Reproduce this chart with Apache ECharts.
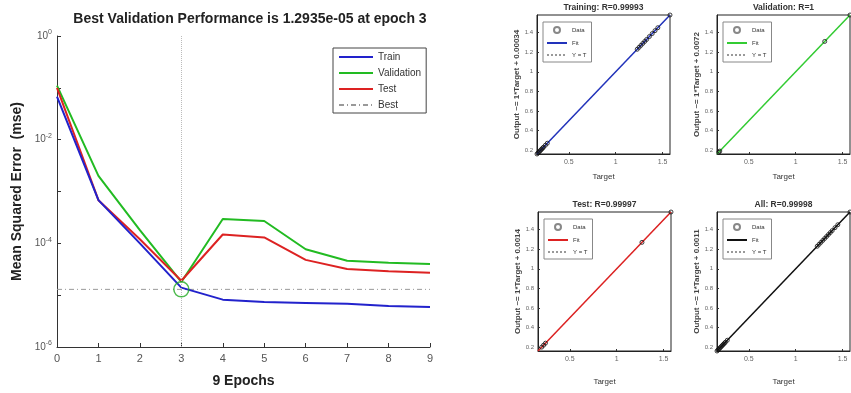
<!DOCTYPE html>
<html>
<head>
<meta charset="utf-8">
<script src="https://cdn.jsdelivr.net/npm/echarts@6/dist/echarts.min.js"></script>
<style>
  html, body { margin: 0; padding: 0; background: #fff; }
  #chart { width: 851px; height: 393px; }
</style>
</head>
<body>
<div id="chart"></div>
<script>
// performance curves (mse per epoch)
const epochs = [0, 1, 2, 3, 4, 5, 6, 7, 8, 9];
const trainPerf = [0.068, 6.8e-4, 1.0e-4, 1.4e-5, 8.2e-6, 7.4e-6, 7.1e-6, 6.8e-6, 6.2e-6, 5.9e-6];
const valPerf = [0.11, 2.0e-3, 1.8e-4, 1.8e-5, 2.95e-4, 2.7e-4, 7.7e-5, 4.6e-5, 4.2e-5, 4.0e-5];
const testPerf = [0.1, 6.8e-4, 1.2e-4, 1.9e-5, 1.48e-4, 1.3e-4, 4.8e-5, 3.2e-5, 2.9e-5, 2.7e-5];
const bestEpoch = 3;
const bestPerf = 1.2935e-5;
const logTickLabels = ['10', '0', '-2', '-4', '-6'];

// regression panels
const panelTitles = ['Training: R=0.99993', 'Validation: R=1', 'Test: R=0.99997', 'All: R=0.99998'];
const panelYLabels = ['Output ~= 1*Target + 0.00034', 'Output ~= 1*Target + 0.0072', 'Output ~= 1*Target + 0.0014', 'Output ~= 1*Target + 0.0011'];
const panelColors = ['#2233bb', '#33cc33', '#dd2222', '#111111'];
const targetRange = [0.16, 1.58];
const xTicks = [0.5, 1, 1.5];
const yTicks = [0.2, 0.4, 0.6, 0.8, 1, 1.2, 1.4];

const trainTarget = [0.16, 0.17, 0.18, 0.19, 0.2, 0.21, 0.22, 0.23, 0.25, 0.27, 1.23, 1.25, 1.27, 1.29, 1.31, 1.33, 1.36, 1.39, 1.42, 1.45, 1.58];
const trainOutput = [0.16, 0.17, 0.18, 0.19, 0.2, 0.21, 0.22, 0.23, 0.25, 0.27, 1.23, 1.25, 1.27, 1.29, 1.31, 1.33, 1.36, 1.39, 1.42, 1.45, 1.58];
const valTarget = [0.18, 0.19, 1.31, 1.58];
const valOutput = [0.18, 0.19, 1.31, 1.58];
const testTarget = [0.2, 0.22, 0.24, 1.27, 1.58];
const testOutput = [0.2, 0.22, 0.24, 1.27, 1.58];
const allTarget = [0.16, 0.17, 0.18, 0.19, 0.2, 0.21, 0.22, 0.23, 0.24, 0.25, 0.27, 1.23, 1.25, 1.27, 1.29, 1.31, 1.33, 1.35, 1.37, 1.39, 1.42, 1.45, 1.58];
const allOutput = [0.16, 0.17, 0.18, 0.19, 0.2, 0.21, 0.22, 0.23, 0.24, 0.25, 0.27, 1.23, 1.25, 1.27, 1.29, 1.31, 1.33, 1.35, 1.37, 1.39, 1.42, 1.45, 1.58];

const panelTargets = [trainTarget, valTarget, testTarget, allTarget];
const panelOutputs = [trainOutput, valOutput, testOutput, allOutput];

const font = 'Liberation Sans, Arial, sans-serif';
const zip = (a, b) => a.map((v, i) => [v, b[i]]);

const chart = echarts.init(document.getElementById('chart'));

// grid boxes: main plot + 2x2 regression plots
const panelGrids = [
  { left: 537, top: 15, width: 133, height: 139, nameGap: 19 },
  { left: 717, top: 15, width: 133, height: 139, nameGap: 19 },
  { left: 538, top: 212, width: 133, height: 139, nameGap: 27 },
  { left: 717, top: 212, width: 133, height: 139, nameGap: 27 }
];

const grids = [{ left: 57, top: 36, width: 373, height: 317 }].concat(
  panelGrids.map(g => ({ show: true, borderColor: '#222', borderWidth: 1, left: g.left, top: g.top, width: g.width, height: g.height }))
);

const xAxes = [{
  gridIndex: 0, type: 'value', min: 0, max: 9, interval: 1,
  name: '9 Epochs', nameLocation: 'middle', nameGap: 27,
  nameTextStyle: { fontFamily: font, fontWeight: 'bold', fontSize: 14, color: '#222' },
  axisLine: { lineStyle: { color: '#333' } },
  axisTick: { inside: true, length: 4, lineStyle: { color: '#333' } },
  axisLabel: { color: '#555', fontSize: 11, fontFamily: font, margin: 6 },
  splitLine: { show: false }
}];

const yAxes = [{
  gridIndex: 0, type: 'log', logBase: 10, min: 1e-6, max: 1,
  name: 'Mean Squared Error  (mse)', nameLocation: 'middle', nameGap: 33, nameRotate: 90,
  nameTextStyle: { fontFamily: font, fontWeight: 'bold', fontSize: 14, color: '#222' },
  axisLine: { lineStyle: { color: '#333' } },
  axisTick: { inside: true, length: 4, lineStyle: { color: '#333' } },
  axisLabel: {
    margin: 5,
    formatter: v => {
      const e = Math.round(Math.log10(v));
      if (e % 2 !== 0) return '';
      return '{b|' + logTickLabels[0] + '}{s|' + logTickLabels[1 + (-e / 2)] + '}';
    },
    rich: {
      b: { fontSize: 10, color: '#555', fontFamily: font },
      s: { fontSize: 7, color: '#555', fontFamily: font, verticalAlign: 'top', padding: [0, 0, 7, 0] }
    }
  },
  splitLine: { show: false }
}];

panelGrids.forEach((g, i) => {
  const idx = i + 1;
  xAxes.push({
    gridIndex: idx, type: 'value', min: targetRange[0], max: targetRange[1],
    name: 'Target', nameLocation: 'middle', nameGap: g.nameGap,
    nameTextStyle: { fontFamily: font, fontSize: 8, color: '#333' },
    axisLine: { lineStyle: { color: '#222' } },
    axisTick: { customValues: xTicks, inside: true, length: 2, lineStyle: { color: '#333' } },
    axisLabel: { customValues: xTicks, fontSize: 7, color: '#666', fontFamily: font, margin: 5 },
    splitLine: { show: false }
  });
  yAxes.push({
    gridIndex: idx, type: 'value', min: targetRange[0], max: targetRange[1],
    name: panelYLabels[i], nameLocation: 'middle', nameGap: 16, nameRotate: 90,
    nameTextStyle: { fontFamily: font, fontSize: 8, fontWeight: 'bold', color: '#444' },
    axisLine: { lineStyle: { color: '#222' } },
    axisTick: { customValues: yTicks, inside: true, length: 2, lineStyle: { color: '#333' } },
    axisLabel: { customValues: yTicks, fontSize: 6, color: '#666', fontFamily: font, margin: 4 },
    splitLine: { show: false }
  });
});

const series = [
  {
    name: 'Train', type: 'line', xAxisIndex: 0, yAxisIndex: 0, symbol: 'none',
    data: zip(epochs, trainPerf), lineStyle: { color: '#2222cc', width: 2 }, itemStyle: { color: '#2222cc' }, z: 4
  },
  {
    name: 'Validation', type: 'line', xAxisIndex: 0, yAxisIndex: 0, symbol: 'none',
    data: zip(epochs, valPerf), lineStyle: { color: '#22bb22', width: 2 }, itemStyle: { color: '#22bb22' }, z: 3
  },
  {
    name: 'Test', type: 'line', xAxisIndex: 0, yAxisIndex: 0, symbol: 'none',
    data: zip(epochs, testPerf), lineStyle: { color: '#dd2222', width: 2 }, itemStyle: { color: '#dd2222' }, z: 3
  },
  {
    name: 'Best', type: 'line', xAxisIndex: 0, yAxisIndex: 0, symbol: 'none',
    data: [[epochs[0], bestPerf], [epochs[epochs.length - 1], bestPerf]],
    lineStyle: { color: '#999', width: 1, type: [5, 3, 1, 3] }, itemStyle: { color: '#999' },
    markLine: {
      silent: true, symbol: 'none', label: { show: false },
      lineStyle: { color: '#bbb', type: 'dotted', width: 1 },
      data: [{ xAxis: bestEpoch }]
    },
    z: 2
  },
  {
    name: 'BestPoint', type: 'scatter', xAxisIndex: 0, yAxisIndex: 0,
    data: [[bestEpoch, bestPerf]], symbol: 'circle', symbolSize: 15,
    itemStyle: { color: 'rgba(0,0,0,0)', borderColor: '#22aa22', borderWidth: 1.5 }, z: 5
  }
];

panelGrids.forEach((g, i) => {
  const idx = i + 1;
  const lo = targetRange[0], hi = targetRange[1];
  series.push({
    name: 'Y = T|' + i, type: 'line', xAxisIndex: idx, yAxisIndex: idx, symbol: 'none',
    data: [[lo, lo], [hi, hi]],
    lineStyle: { color: '#999', width: 1, type: 'dotted' }, itemStyle: { color: '#999' }, z: 2
  });
  series.push({
    name: 'Fit|' + i, type: 'line', xAxisIndex: idx, yAxisIndex: idx, symbol: 'none',
    data: [[lo, lo], [hi, hi]],
    lineStyle: { color: panelColors[i], width: 1.5 }, itemStyle: { color: panelColors[i] }, z: 3
  });
  series.push({
    name: 'Data|' + i, type: 'scatter', xAxisIndex: idx, yAxisIndex: idx,
    data: zip(panelTargets[i], panelOutputs[i]), symbol: 'circle', symbolSize: 4,
    itemStyle: { color: 'rgba(0,0,0,0)', borderColor: '#111', borderWidth: 1 }, z: 4
  });
});

const titles = [{
  text: 'Best Validation Performance is 1.2935e-05 at epoch 3',
  left: 250, top: 12, textAlign: 'center', padding: 0,
  textStyle: { fontFamily: font, fontWeight: 'bold', fontSize: 14, color: '#222' }
}];
panelGrids.forEach((g, i) => {
  titles.push({
    text: panelTitles[i], left: g.left + g.width / 2, top: g.top - 12, textAlign: 'center', padding: 0,
    textStyle: { fontFamily: font, fontWeight: 'bold', fontSize: 8.5, color: '#333' }
  });
});

// hide the marker that ECharts puts on line legend icons
const noMarker = { opacity: 0 };

const legends = [{
  data: ['Train', 'Validation', 'Test', 'Best'],
  orient: 'vertical', left: 333, top: 48, padding: [4, 5, 3, 5],
  itemWidth: 34, itemHeight: 9, itemGap: 6,
  itemStyle: noMarker,
  borderColor: '#444', borderWidth: 1, backgroundColor: '#fff',
  textStyle: { fontFamily: font, fontSize: 10, color: '#333' }
}];
panelGrids.forEach((g, i) => {
  legends.push({
    data: [{ name: 'Data|' + i, itemStyle: { opacity: 1, borderColor: '#888' } }, 'Fit|' + i, 'Y = T|' + i],
    formatter: n => n.split('|')[0],
    orient: 'vertical', left: g.left + 6, top: g.top + 7, padding: [4, 5, 4, 3],
    itemWidth: 20, itemHeight: 6, itemGap: 6,
    itemStyle: noMarker,
    borderColor: '#888', borderWidth: 1, backgroundColor: '#fff',
    textStyle: { fontFamily: font, fontSize: 6, color: '#333' }
  });
});

chart.setOption({
  animation: false,
  backgroundColor: '#fff',
  title: titles,
  legend: legends,
  grid: grids,
  xAxis: xAxes,
  yAxis: yAxes,
  series: series
});
</script>
</body>
</html>
